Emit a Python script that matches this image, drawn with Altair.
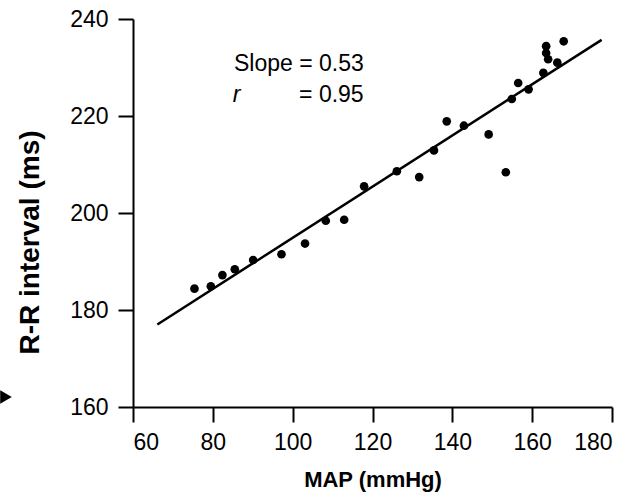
import altair as alt
import pandas as pd

# Data
map_mmhg = [75.4, 79.5, 82.4, 85.5, 90.1, 97.2, 103.1, 108.3, 112.9, 117.9,
            126.1, 131.7, 135.4, 138.6, 142.9, 149.1, 153.4, 154.9, 156.5, 159.1,
            162.8, 163.5, 163.5, 164.0, 166.3, 167.9]
rr_ms = [184.4, 184.9, 187.2, 188.4, 190.3, 191.5, 193.7, 198.4, 198.6, 205.5,
         208.6, 207.4, 212.9, 218.9, 218.0, 216.2, 208.4, 223.5, 226.8, 225.5,
         228.9, 234.4, 233.0, 231.7, 231.0, 235.4]

fit_x = [66.1, 177.4]
fit_y = [177.0, 235.7]

x_ticks = [60, 80, 100, 120, 140, 160, 180]
y_ticks = [160, 180, 200, 220, 240]

ann_text = ["Slope = 0.53", "r", "= 0.95"]
ann_x = [85.3, 85.0, 101.6]
ann_y = [229.2, 222.8, 222.8]
ann_style = ["normal", "italic", "normal"]

pts = pd.DataFrame({"MAP": map_mmhg, "RR": rr_ms})
fit = pd.DataFrame({"MAP": fit_x, "RR": fit_y})
ann = pd.DataFrame({"t": ann_text, "x": ann_x, "y": ann_y, "s": ann_style})

FONT = "Liberation Sans"

xscale = alt.Scale(domain=[60, 180], nice=False, zero=False)
yscale = alt.Scale(domain=[160, 240], nice=False, zero=False)

xaxis = alt.Axis(values=x_ticks, title="MAP (mmHg)", titleBaseline="alphabetic",
                 titleY=79, labelPadding=9, titleFontSize=22)
yaxis = alt.Axis(values=y_ticks, title="R-R interval (ms)", titleX=-89, titleY=223,
                 titleBaseline="bottom", titleAngle=-90, labelPadding=10, titleFontSize=28)

points = alt.Chart(pts).mark_circle(size=75, color="black", opacity=1).encode(
    x=alt.X("MAP:Q", scale=xscale, axis=xaxis),
    y=alt.Y("RR:Q", scale=yscale, axis=yaxis),
)

line = alt.Chart(fit).mark_line(color="black", strokeWidth=2.5).encode(
    x=alt.X("MAP:Q", scale=xscale),
    y=alt.Y("RR:Q", scale=yscale),
)

text_normal = alt.Chart(ann[ann.s == "normal"]).mark_text(
    align="left", baseline="alphabetic", font=FONT, fontSize=23, color="black"
).encode(x=alt.X("x:Q", scale=xscale), y=alt.Y("y:Q", scale=yscale), text="t:N")

text_italic = alt.Chart(ann[ann.s == "italic"]).mark_text(
    align="left", baseline="alphabetic", font=FONT, fontSize=23, color="black",
    fontStyle="italic"
).encode(x=alt.X("x:Q", scale=xscale), y=alt.Y("y:Q", scale=yscale), text="t:N")

arrow = alt.Chart(pd.DataFrame({"a": [0]})).mark_point(
    shape="triangle-right", filled=True, color="black", size=180, opacity=1
).encode(x=alt.value(-127), y=alt.value(378))

chart = alt.layer(line, points, text_normal, text_italic, arrow).properties(
    width=479, height=388,
    padding={"left": 133, "top": 19, "right": 26, "bottom": 89},
    autosize=alt.AutoSizeParams(type="none"),
    background="white",
).configure_view(stroke=None).configure_axis(
    grid=False,
    domainColor="black", domainWidth=2,
    tickColor="black", tickWidth=2, tickSize=15,
    labelFont=FONT, labelFontSize=23, labelColor="black",
    titleFont=FONT, titleFontWeight="bold", titleColor="black",
)

chart.save("out.html", embed_options={"renderer": "svg", "actions": False})
